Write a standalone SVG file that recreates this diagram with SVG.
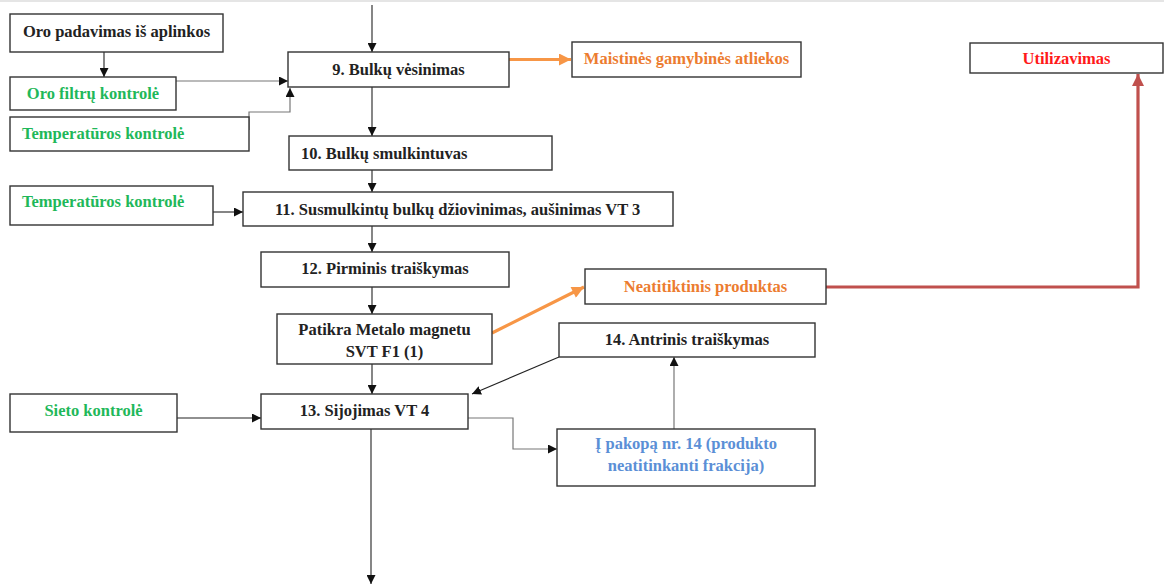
<svg xmlns="http://www.w3.org/2000/svg" width="1164" height="586" viewBox="0 0 1164 586">
<style>
.box{fill:#fff;stroke:#333;stroke-width:1.4}
text{font-family:"Liberation Serif","Times New Roman",serif;font-weight:bold;font-size:16.5px;fill:#222}
.c{text-anchor:middle}
.g{fill:#1fb85a}
.o{fill:#ec7c30}
.r{fill:#ff1a1a}
.b{fill:#5b8fd6}
.k{fill:none;stroke:#222;stroke-width:1.1}
.gr{fill:none;stroke:#777;stroke-width:1.2}
.or{fill:none;stroke:#f79646;stroke-width:3.2}
.rd{fill:none;stroke:#c0504d;stroke-width:3.2}
</style>
<defs>
<marker id="a" viewBox="0 0 10 10" refX="10" refY="5" markerWidth="9" markerHeight="9" markerUnits="userSpaceOnUse" orient="auto"><path d="M0,0 L10,5 L0,10 z" fill="#111"/></marker>
<marker id="ao" viewBox="0 0 10 10" refX="10" refY="5" markerWidth="13" markerHeight="12" markerUnits="userSpaceOnUse" orient="auto"><path d="M0,0 L10,5 L0,10 z" fill="#f79646"/></marker>
<marker id="ar" viewBox="0 0 10 10" refX="10" refY="5" markerWidth="13" markerHeight="12" markerUnits="userSpaceOnUse" orient="auto"><path d="M0,0 L10,5 L0,10 z" fill="#c0504d"/></marker>
</defs>
<rect width="1164" height="586" fill="#fff"/>
<line x1="0" y1="1" x2="1164" y2="1" stroke="#dcdcdc" stroke-width="1.5"/>
<g id="connectors">
<path class="k" d="M372,5 V52" marker-end="url(#a)"/>
<path class="k" d="M104,52 V77" marker-end="url(#a)"/>
<path class="gr" d="M176,81 H288" marker-end="url(#a)"/>
<path class="gr" d="M249,130 V112 H290 V88" marker-end="url(#a)"/>
<path class="or" d="M509,59.5 H571" marker-end="url(#ao)"/>
<path class="k" d="M372,87 V136" marker-end="url(#a)"/>
<path class="k" d="M372,170 V192" marker-end="url(#a)"/>
<path class="k" d="M213,212 H243" marker-end="url(#a)"/>
<path class="k" d="M372,226 V252" marker-end="url(#a)"/>
<path class="k" d="M372,287 V314" marker-end="url(#a)"/>
<path class="k" d="M372,364 V394" marker-end="url(#a)"/>
<path class="or" d="M492,333 L584,287" marker-end="url(#ao)"/>
<path class="rd" d="M826,287 H1138 V74" marker-end="url(#ar)"/>
<path class="k" d="M559,357 L472,394" marker-end="url(#a)"/>
<path class="k" d="M177,418 H261" marker-end="url(#a)"/>
<path class="gr" d="M468,418 H513 V449 H557" marker-end="url(#a)"/>
<path class="gr" d="M674,429 V357" marker-end="url(#a)"/>
<path class="k" d="M371,429 V584" marker-end="url(#a)"/>
</g>
<g id="n-oro-padavimas"><rect class="box" x="10" y="14" width="213" height="38"/><text class="c" x="116.5" y="37">Oro padavimas iš aplinkos</text></g>
<g id="n-oro-filtru"><rect class="box" x="10" y="77" width="166" height="33"/><text class="c g" x="93" y="99">Oro filtrų kontrolė</text></g>
<g id="n-temp1"><rect class="box" x="10" y="117" width="239" height="34"/><text class="g" x="22" y="139">Temperatūros kontrolė</text></g>
<g id="n-9"><rect class="box" x="288" y="52" width="221" height="35"/><text class="c" x="398.5" y="75">9. Bulkų vėsinimas</text></g>
<g id="n-maistines"><rect class="box" x="572" y="42" width="229" height="35"/><text class="c o" x="686.5" y="64">Maistinės gamybinės atliekos</text></g>
<g id="n-utilizavimas"><rect class="box" x="970" y="43" width="193" height="30"/><text class="c r" x="1066.5" y="64">Utilizavimas</text></g>
<g id="n-10"><rect class="box" x="289" y="136" width="263" height="34"/><text x="301" y="159">10. Bulkų smulkintuvas</text></g>
<g id="n-temp2"><rect class="box" x="10" y="186" width="203" height="39"/><text class="g" x="22" y="207">Temperatūros kontrolė</text></g>
<g id="n-11"><rect class="box" x="243" y="192" width="430" height="34"/><text x="275" y="215">11. Susmulkintų bulkų džiovinimas, aušinimas VT 3</text></g>
<g id="n-12"><rect class="box" x="261" y="252" width="248" height="35"/><text class="c" x="385" y="274">12. Pirminis traiškymas</text></g>
<g id="n-neatitiktinis"><rect class="box" x="585" y="269" width="241" height="35"/><text class="c o" x="705.5" y="292">Neatitiktinis produktas</text></g>
<g id="n-patikra"><rect class="box" x="277" y="314" width="215" height="50"/><text class="c" x="384.5" y="335">Patikra Metalo magnetu</text><text class="c" x="384.5" y="357">SVT F1 (1)</text></g>
<g id="n-14"><rect class="box" x="559" y="323" width="256" height="34"/><text class="c" x="687" y="345">14. Antrinis traiškymas</text></g>
<g id="n-sieto"><rect class="box" x="10" y="394" width="167" height="38"/><text class="c g" x="93.5" y="416">Sieto kontrolė</text></g>
<g id="n-13"><rect class="box" x="261" y="394" width="207" height="35"/><text class="c" x="364.5" y="416">13. Sijojimas VT 4</text></g>
<g id="n-pakopa"><rect class="box" x="557" y="429" width="258" height="57"/><text class="c b" x="686" y="449">Į pakopą nr. 14 (produkto</text><text class="c b" x="686" y="471">neatitinkanti frakcija)</text></g>
</svg>
